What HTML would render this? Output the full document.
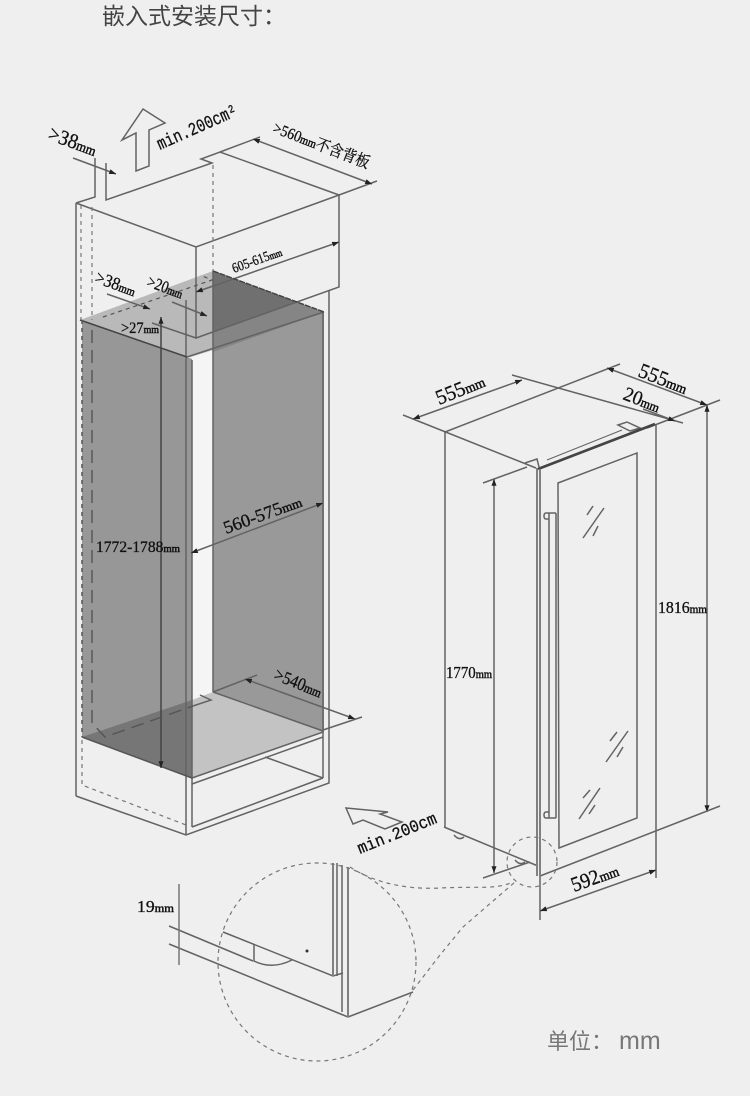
<!DOCTYPE html>
<html lang="zh"><head><meta charset="utf-8"><title>嵌入式安装尺寸</title>
<style>
html,body{margin:0;padding:0;background:#efefef}
svg{display:block;filter:blur(.3px)}
text{font-family:"Liberation Serif","Noto Serif CJK SC",serif;fill:#111;stroke:#111;stroke-width:.3}
tspan{stroke-width:.5}
.m{font-family:"Liberation Mono","Noto Sans CJK SC",monospace}
.t{font-family:"Liberation Sans","Noto Sans CJK SC",sans-serif;stroke:none}
.l line,.l polyline,.l path,.l polygon{fill:none;stroke:#636363;stroke-width:1.5}
.k line{stroke:#808080;stroke-width:2}
.d line,.d polyline,.d path,.d circle{fill:none;stroke:#777;stroke-width:1.2;stroke-dasharray:4 4}
</style></head><body>
<svg width="750" height="1096" viewBox="0 0 750 1096" xmlns="http://www.w3.org/2000/svg">
<defs><marker id="a" viewBox="0 0 8 6" refX="8" refY="3" markerWidth="5" markerHeight="3.4" orient="auto-start-reverse"><path d="M0 0L8 3L0 6Z" fill="#222"/></marker></defs>
<rect width="750" height="1096" fill="#efefef"/>
<text class="t" x="102" y="24" font-size="23" style="fill:#444">嵌入式安装尺寸：</text>
<text class="t" x="547" y="1049" font-size="22" style="fill:#777">单位：<tspan dx="6" font-size="25">mm</tspan></text>

<!-- shaded cabinet -->
<polygon points="192,358 213,350 213,700 192,700" fill="#f5f5f5"/>
<polygon points="82,320 192,359 192,778 82,737" fill="#979797"/>
<polygon points="213,348 324,312 324,732 213,692" fill="#999"/>
<polygon points="80,320 213,271 213,350 187,358" fill="#b9b9b9"/>
<polygon points="213,271 324,312 213,352" fill="#858585"/>
<polygon points="213,271 297,302 213,332" fill="#707070"/>
<polygon points="82,737 192,700 192,778" fill="#767676"/>
<polygon points="192,700 213,692 323,731 192,778" fill="#c3c3c3"/>

<g class="l">
<!-- top box -->
<polyline points="76,203 196,247 339,195 339,287 196,338 196,247"/>
<polyline points="76,203 95,197 95,158"/>
<polyline points="106,163 106,200 212,163 201,159 220,152 339,195"/>
<line x1="73" y1="158" x2="116" y2="174" marker-end="url(#a)"/>
<line x1="220" y1="152" x2="260" y2="137"/>
<line x1="339" y1="195" x2="377" y2="181"/>
<line x1="253" y1="139" x2="372" y2="184" marker-start="url(#a)" marker-end="url(#a)"/>
<line x1="196" y1="292" x2="339" y2="242" marker-start="url(#a)" marker-end="url(#a)"/>
<polygon points="143,109 165,123 149,130 149,166 136,171 136,133 122,140"/>
<!-- frame -->
<line x1="76" y1="203" x2="76" y2="796"/>
<polyline points="76,796 186,835 329,783 329,290"/>
<line x1="186" y1="300" x2="186" y2="835"/>
<line x1="192" y1="360" x2="192" y2="827"/>
<line x1="192" y1="827" x2="323" y2="778"/>
<line x1="323" y1="312" x2="323" y2="778"/>
<line x1="265" y1="757" x2="323" y2="778"/>
<line x1="192" y1="778" x2="323" y2="732"/>
<line x1="192" y1="784" x2="323" y2="737"/>
<line x1="213" y1="271" x2="213" y2="692"/>
<line x1="213" y1="692" x2="323" y2="731"/>
<line x1="80" y1="320" x2="187" y2="357" style="stroke:#444"/>
<line x1="187" y1="357" x2="324" y2="312"/>
<line x1="213" y1="271" x2="324" y2="312" stroke-dasharray="6 1" style="stroke:#444"/>
<line x1="82" y1="737" x2="192" y2="778" style="stroke:#555"/>
<line x1="107" y1="294" x2="150" y2="309" marker-end="url(#a)"/>
<line x1="172" y1="302" x2="207" y2="316" marker-end="url(#a)"/>
<line x1="152" y1="323" x2="196" y2="338"/>
<line x1="161" y1="317" x2="161" y2="768" marker-start="url(#a)" marker-end="url(#a)" style="stroke:#444"/>
<line x1="191" y1="553" x2="323" y2="503" marker-start="url(#a)" marker-end="url(#a)"/>
<line x1="213" y1="692" x2="257" y2="675"/>
<line x1="323" y1="730" x2="362" y2="717"/>
<line x1="245" y1="679" x2="355" y2="719" marker-start="url(#a)" marker-end="url(#a)"/>
<polyline points="200,695 211,700 193,706"/>
<polygon points="346,808 388,812 380,814 402,822 385,829 363,820 353,824"/>

<!-- fridge -->
<polyline points="445,432 445,827"/>
<line x1="403" y1="415" x2="536" y2="468"/>
<line x1="445" y1="432" x2="620" y2="364"/>
<line x1="512" y1="375" x2="683" y2="423"/>
<line x1="647" y1="428" x2="720" y2="400"/>
<line x1="413" y1="419" x2="522" y2="380" marker-start="url(#a)" marker-end="url(#a)"/>
<line x1="607" y1="368" x2="707" y2="405" marker-start="url(#a)" marker-end="url(#a)"/>
<line x1="643" y1="409" x2="675" y2="421" marker-end="url(#a)"/>
<line x1="707" y1="405" x2="707" y2="812" marker-start="url(#a)" marker-end="url(#a)"/>
<line x1="656" y1="425" x2="656" y2="878"/>
<line x1="720" y1="806" x2="540" y2="876"/>
<line x1="540" y1="876" x2="540" y2="920"/>
<line x1="540" y1="911" x2="656" y2="870" marker-start="url(#a)" marker-end="url(#a)"/>
<line x1="483" y1="483" x2="527" y2="467"/>
<line x1="494" y1="479" x2="494" y2="873" marker-start="url(#a)" marker-end="url(#a)"/>
<line x1="483" y1="878" x2="530" y2="862"/>
<line x1="444" y1="827" x2="538" y2="866"/>
<polygon points="558,483 637,453 637,818 559,848"/>
<line x1="549" y1="513" x2="549" y2="818"/>
<line x1="556" y1="513" x2="556" y2="818"/>
<path d="M556 513H546Q544 513 544 516Q544 519 546 519H549M556 818H546Q544 818 544 815Q544 812 546 812H549"/>
<line x1="583" y1="538" x2="604" y2="508"/><line x1="587" y1="515" x2="593" y2="506"/><line x1="593" y1="536" x2="598" y2="526"/>
<line x1="606" y1="762" x2="628" y2="731"/><line x1="610" y1="741" x2="617" y2="732"/><line x1="617" y1="757" x2="623" y2="747"/>
<line x1="579" y1="819" x2="600" y2="788"/><line x1="583" y1="798" x2="590" y2="790"/><line x1="589" y1="814" x2="595" y2="805"/>
<path d="M454 835Q459 841 464 837M515 860Q520 866 525 862"/>
<path d="M618 425L627 422L640 428L630 431Z"/>
<path d="M525 463L537 459L539 467"/>
<line x1="547" y1="460" x2="622" y2="430" style="stroke-width:1"/>

<!-- detail -->
<line x1="169" y1="926" x2="253" y2="961"/>
<line x1="169" y1="944" x2="348" y2="1017"/>
<polyline points="223,932 333,976 343,973"/>
<line x1="342" y1="865" x2="342" y2="1012"/>
<line x1="337" y1="863" x2="337" y2="976"/>
<line x1="348" y1="1017" x2="413" y2="992"/>
<path d="M254 945V961Q272 970 292 960"/>
<line x1="179" y1="884" x2="179" y2="965" style="stroke:#777"/>
</g>
<g class="k">
<line x1="333" y1="863" x2="333" y2="976"/>
<line x1="348" y1="867" x2="348" y2="1017"/>
<line x1="537" y1="468" x2="537" y2="876"/>
<line x1="538" y1="469" x2="655" y2="424" style="stroke:#444;stroke-width:2.6"/>
<line x1="540" y1="469" x2="540" y2="876"/>
</g>
<circle cx="307" cy="951" r="1.5" fill="#333"/>
<g class="d">
<line x1="81" y1="205" x2="81" y2="320"/>
<line x1="92" y1="207" x2="92" y2="320"/>
<line x1="213" y1="165" x2="213" y2="271"/>
<line x1="82" y1="320" x2="82" y2="737" style="stroke:#555;stroke-width:1.5"/>
<polyline points="82,740 82,785 186,825"/>
<polyline points="92,330 92,723 105,737 193,706" style="stroke-dasharray:13 7;stroke:#555;stroke-width:1.4"/>
<polyline points="103,317 177,292 212,280 200,275" style="stroke:#555"/>
<circle cx="532" cy="862" r="25"/>
<circle cx="317" cy="962" r="99"/>
<path d="M350 867C370 880 400 890 440 888S495 890 513 882"/>
<path d="M413 990L440 955L463 927L515 882"/>
</g>

<!-- labels -->
<g>
<text transform="translate(47,139) rotate(20)" font-size="21" textLength="50" lengthAdjust="spacingAndGlyphs">&gt;38<tspan font-size="14">mm</tspan></text>
<text class="m" transform="translate(160,150) rotate(-24)" font-size="18" textLength="86" lengthAdjust="spacingAndGlyphs">min.200cm²</text>
<text transform="translate(272,132) rotate(21)" font-size="16" textLength="102" lengthAdjust="spacingAndGlyphs">&gt;560<tspan font-size="12">mm</tspan>不含背板</text>
<text transform="translate(234,273) rotate(-20)" font-size="14" textLength="52" lengthAdjust="spacingAndGlyphs">605-615<tspan font-size="10">mm</tspan></text>
<text transform="translate(94,282) rotate(20)" font-size="18" textLength="42" lengthAdjust="spacingAndGlyphs">&gt;38<tspan font-size="12">mm</tspan></text>
<text transform="translate(146,286) rotate(20)" font-size="17" textLength="37" lengthAdjust="spacingAndGlyphs">&gt;20<tspan font-size="12">mm</tspan></text>
<text x="121" y="333" font-size="16" textLength="38" lengthAdjust="spacingAndGlyphs">&gt;27<tspan font-size="11">mm</tspan></text>
<text x="96" y="552" font-size="16" textLength="84" lengthAdjust="spacingAndGlyphs">1772-1788<tspan font-size="11">mm</tspan></text>
<text transform="translate(226,534) rotate(-20)" font-size="18" textLength="82" lengthAdjust="spacingAndGlyphs">560-575<tspan font-size="13">mm</tspan></text>
<text transform="translate(273,679) rotate(22)" font-size="18" textLength="50" lengthAdjust="spacingAndGlyphs">&gt;540<tspan font-size="13">mm</tspan></text>
<text class="m" transform="translate(360,854) rotate(-22)" font-size="17" textLength="84" lengthAdjust="spacingAndGlyphs">min.200cm</text>
<text x="137" y="912" font-size="17" textLength="37" lengthAdjust="spacingAndGlyphs">19<tspan font-size="12">mm</tspan></text>
<text transform="translate(439,405) rotate(-22)" font-size="21" textLength="51" lengthAdjust="spacingAndGlyphs">555<tspan font-size="14">mm</tspan></text>
<text transform="translate(637,376) rotate(21)" font-size="21" textLength="51" lengthAdjust="spacingAndGlyphs">555<tspan font-size="14">mm</tspan></text>
<text transform="translate(622,399) rotate(21)" font-size="20" textLength="38" lengthAdjust="spacingAndGlyphs">20<tspan font-size="13">mm</tspan></text>
<text x="658" y="613" font-size="17" textLength="49" lengthAdjust="spacingAndGlyphs">1816<tspan font-size="12">mm</tspan></text>
<text x="446" y="678" font-size="17" textLength="46" lengthAdjust="spacingAndGlyphs">1770<tspan font-size="12">mm</tspan></text>
<text transform="translate(574,892) rotate(-20)" font-size="21" textLength="49" lengthAdjust="spacingAndGlyphs">592<tspan font-size="14">mm</tspan></text>
</g>
</svg>
</body></html>
